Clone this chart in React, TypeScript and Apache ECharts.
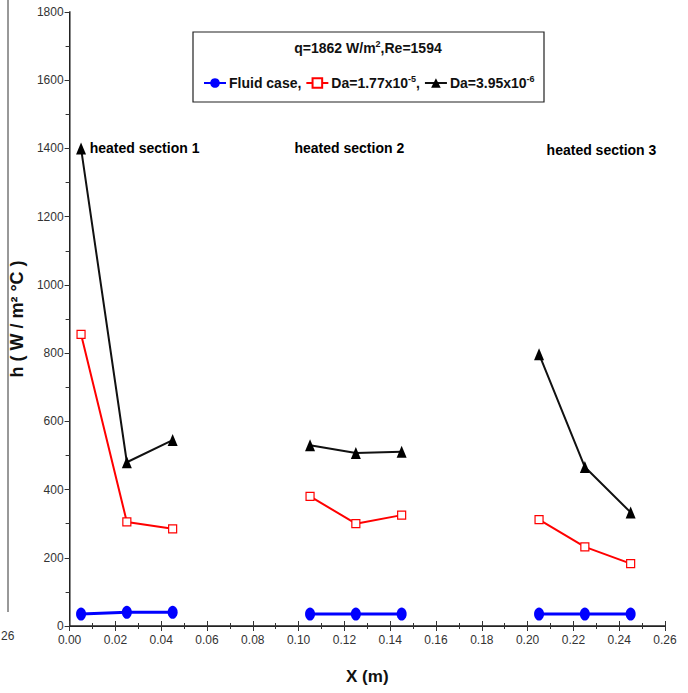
import React, { useEffect, useRef } from "react";
import * as echarts from "echarts";

const xPositions = [0.005, 0.025, 0.045, null, 0.105, 0.125, 0.145, null, 0.205, 0.225, 0.245];
const fluidCase = [35, 40, 40, null, 35, 35, 35, null, 35, 35, 35];
const da177 = [855, 305, 285, null, 380, 300, 325, null, 312, 232, 183];
const da395 = [1400, 480, 545, null, 530, 507, 511, null, 797, 466, 333];
const seriesNames = ["Fluid case,", "Da=1.77x10-5,", "Da=3.95x10-6"];
const sectionLabels = [
  { text: "heated section 1", x: 0.0088, y: 1402 },
  { text: "heated section 2", x: 0.0982, y: 1402 },
  { text: "heated section 3", x: 0.2083, y: 1396 },
];

const FONT = "'Liberation Sans Narrow', 'Liberation Sans', Arial, sans-serif";

function pairs(vals: (number | null)[]) {
  return xPositions.map((x, i) => (x === null || vals[i] === null ? null : [x, vals[i]]));
}

export default function App() {
  const ref = useRef<HTMLDivElement>(null);
  useEffect(() => {
    if (!ref.current) return;
    const chart = echarts.init(ref.current, null, { renderer: "svg" });
    const axisColor = "#333";
    const frameAxisCommon = {
      axisLine: { show: true, lineStyle: { color: "#222", width: 1 } },
      axisTick: { show: true, inside: true, length: 5, lineStyle: { color: axisColor } },
      minorTick: { show: true, splitNumber: 2, length: 3, lineStyle: { color: axisColor } },
      axisLabel: { show: false },
      splitLine: { show: false },
    };
    chart.setOption({
      animation: false,
      backgroundColor: "#fff",
      grid: { left: 67, right: 23, top: 12, bottom: 67 },
      xAxis: [
        {
          type: "value",
          min: 0,
          max: 0.26,
          interval: 0.02,
          position: "bottom",
          name: "X (m)",
          nameLocation: "middle",
          nameGap: 42,
          nameTextStyle: { fontFamily: FONT, fontWeight: "bold", fontSize: 17, color: "#111" },
          axisLine: { show: true, lineStyle: { color: "#222", width: 1.5 } },
          axisTick: { show: true, inside: true, length: 5, lineStyle: { color: axisColor } },
          minorTick: { show: true, splitNumber: 2, length: 3, lineStyle: { color: axisColor } },
          axisLabel: {
            fontFamily: FONT,
            fontSize: 12,
            color: "#333",
            margin: 8,
            formatter: (v: number) => v.toFixed(2),
          },
          splitLine: { show: false },
        },
        { type: "value", min: 0, max: 0.26, interval: 0.02, position: "top", ...frameAxisCommon },
      ],
      yAxis: [
        {
          type: "value",
          min: 0,
          max: 1800,
          interval: 200,
          position: "left",
          name: "h ( W / m\u00b2 \u00b0C )",
          nameLocation: "middle",
          nameGap: 37,
          nameTextStyle: { fontFamily: FONT, fontWeight: "bold", fontSize: 18, color: "#111" },
          axisLine: { show: true, lineStyle: { color: "#888", width: 2 } },
          axisTick: { show: true, inside: false, length: 4, lineStyle: { color: axisColor } },
          minorTick: { show: true, splitNumber: 2, length: 4, lineStyle: { color: axisColor } },
          axisLabel: { fontFamily: FONT, fontSize: 12, color: "#333", margin: 6, formatter: (v: number) => String(v) },
          splitLine: { show: false },
        },
        { type: "value", min: 0, max: 1800, interval: 200, position: "right", ...frameAxisCommon },
      ],
      legend: {
        left: 198,
        top: 69,
        itemWidth: 22,
        itemHeight: 12,
        itemGap: 4,
        data: seriesNames,
        formatter: (name: string) => name.replace(/10(-\d)/, "10{sup|$1}"),
        textStyle: {
          fontFamily: FONT,
          fontWeight: "bold",
          fontSize: 14,
          color: "#111",
          padding: [0, 0, 0, -2],
          rich: {
            sup: { fontFamily: FONT, fontSize: 9, fontWeight: "bold", verticalAlign: "top", padding: [0, 0, 9, 0] },
          },
        },
      },
      graphic: [
        {
          type: "rect",
          shape: { x: 193, y: 32, width: 351, height: 70 },
          style: { fill: "#fff", stroke: "#222", lineWidth: 1.2 },
          z: -1,
        },
        {
          type: "text",
          x: 368,
          y: 48,
          style: {
            text: "q=1862 W/m{sup|2},Re=1594",
            fontFamily: FONT,
            fontWeight: "bold",
            fontSize: 14,
            fill: "#111",
            align: "center",
            verticalAlign: "middle",
            rich: { sup: { fontSize: 9, padding: [0, 0, 9, 0], fontWeight: "bold" } },
          },
        },
        {
          type: "line",
          shape: { x1: 8, y1: 0, x2: 8, y2: 612 },
          style: { stroke: "#333", lineWidth: 1 },
        },
        {
          type: "text",
          x: 1,
          y: 636,
          style: { text: "26", fontFamily: FONT, fontSize: 12, fill: "#333", verticalAlign: "middle" },
        },
      ],
      series: [
        {
          name: seriesNames[0],
          type: "line",
          data: pairs(fluidCase),
          connectNulls: false,
          symbol: "circle",
          symbolSize: [10, 13],
          itemStyle: { color: "#0000ff" },
          lineStyle: { color: "#0000ff", width: 3 },
          z: 3,
        },
        {
          name: seriesNames[1],
          type: "line",
          data: pairs(da177),
          connectNulls: false,
          symbol: "rect",
          symbolSize: 8,
          itemStyle: { color: "#fff", borderColor: "#ff0000", borderWidth: 1.2 },
          lineStyle: { color: "#ff0000", width: 2 },
          z: 3,
        },
        {
          name: seriesNames[2],
          type: "line",
          data: pairs(da395),
          connectNulls: false,
          symbol: "triangle",
          symbolSize: [10, 12],
          itemStyle: { color: "#000" },
          lineStyle: { color: "#111", width: 2 },
          z: 3,
        },
        {
          name: "labels",
          type: "scatter",
          symbol: "circle",
          symbolSize: 0,
          itemStyle: { color: "#000", opacity: 1 },
          silent: true,
          data: sectionLabels.map((s) => ({ name: s.text, value: [s.x, s.y] })),
          label: {
            show: true,
            position: "right",
            distance: 0,
            fontFamily: FONT,
            fontWeight: "bold",
            fontSize: 14,
            color: "#000",
            opacity: 1,
            formatter: (p: any) => p.name,
          },
          z: 4,
        },
      ],
    });
    return () => chart.dispose();
  }, []);
  return <div ref={ref} style={{ position: "fixed", left: 0, top: 0, width: 688, height: 693 }} />;
}
